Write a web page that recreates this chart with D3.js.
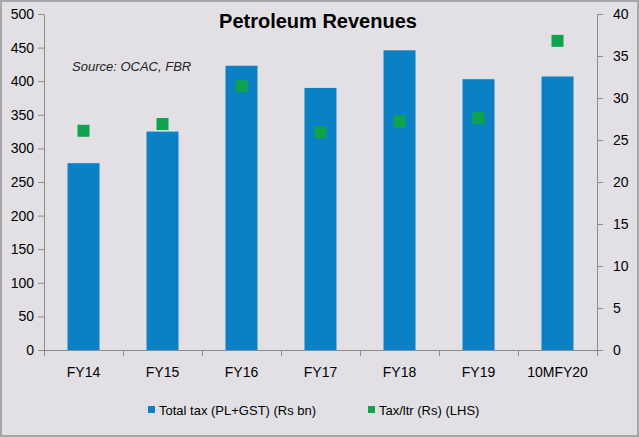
<!DOCTYPE html>
<html><head><meta charset="utf-8">
<script src="https://cdn.jsdelivr.net/npm/d3@7"></script>
<style>body{margin:0;background:#fff}text{font-family:"Liberation Sans",Arial,sans-serif}</style>
</head><body>
<script>
const categories = ["FY14","FY15","FY16","FY17","FY18","FY19","10MFY20"];
const totalTax = [278, 325, 423, 390, 446, 403, 407];
const taxPerLtr = [26.1, 26.9, 31.4, 25.9, 27.2, 27.6, 36.8];
const leftTicks = d3.range(0, 501, 50);
const rightTicks = d3.range(0, 41, 5);

const W = 639, H = 437;
const svg = d3.select("body").append("svg").attr("width", W).attr("height", H);
svg.append("rect").attr("x",1).attr("y",1).attr("width",W-2).attr("height",H-2)
  .attr("fill","#e2e0e5").attr("stroke","#a6a6a6").attr("stroke-width",2);

const x = d3.scaleBand().domain(categories).range([44, 597]).paddingInner(0.595).paddingOuter(0.2975);
const yL = d3.scaleLinear().domain([0, 500]).range([350, 14]);
const yR = d3.scaleLinear().domain([0, 40]).range([350, 14]);

const axStyle = g => { g.selectAll("path,line").attr("stroke","#8c8c8c");
  g.selectAll("text").attr("font-size",14).attr("fill","#000"); };

svg.append("g").attr("transform","translate(44,0)")
  .call(d3.axisLeft(yL).tickValues(leftTicks).tickSize(6).tickSizeOuter(0).tickPadding(12))
  .call(axStyle).call(g=>g.selectAll("text").attr("x",-10).attr("text-anchor","end"));
svg.append("g").attr("transform","translate(597,0)")
  .call(d3.axisRight(yR).tickValues(rightTicks).tickSize(6).tickSizeOuter(0).tickPadding(10))
  .call(axStyle);

const xb = d3.scaleLinear().domain([0, 7]).range([44, 597]);
svg.append("g").attr("transform","translate(0,350)")
  .call(d3.axisBottom(xb).tickValues(d3.range(0,8)).tickFormat("").tickSize(6).tickSizeOuter(0))
  .call(axStyle);
svg.selectAll(".cat").data(categories).enter().append("text")
  .attr("x", d => x(d) + x.bandwidth()/2).attr("y", 377)
  .attr("text-anchor","middle").attr("font-size",14).text(d => d);

svg.selectAll(".bar").data(totalTax).enter().append("rect")
  .attr("x", (d,i) => x(categories[i])).attr("width", x.bandwidth())
  .attr("y", d => yL(d)).attr("height", d => 350 - yL(d)).attr("fill","#0c80c4");

svg.selectAll(".pt").data(taxPerLtr).enter().append("rect")
  .attr("x", (d,i) => x(categories[i]) + x.bandwidth()/2 - 6).attr("width", 12)
  .attr("y", d => yR(d) - 6).attr("height", 12).attr("fill","#0ea44d");

svg.append("text").attr("x", 318).attr("y", 28).attr("text-anchor","middle")
  .attr("font-size",20).attr("font-weight","bold").text("Petroleum Revenues");
svg.append("text").attr("x", 72).attr("y", 71).attr("font-size",13)
  .attr("font-style","italic").attr("fill","#222").text("Source: OCAC, FBR");

const leg = svg.append("g").attr("transform","translate(148,415)");
leg.append("rect").attr("x",0).attr("y",-9).attr("width",7).attr("height",7).attr("fill","#0c80c4");
leg.append("text").attr("x",11).attr("y",0).attr("font-size",13).text("Total tax (PL+GST) (Rs bn)");
leg.append("rect").attr("x",220).attr("y",-9).attr("width",7).attr("height",7).attr("fill","#0ea44d");
leg.append("text").attr("x",231).attr("y",0).attr("font-size",13).text("Tax/ltr (Rs) (LHS)");
</script>
</body></html>
